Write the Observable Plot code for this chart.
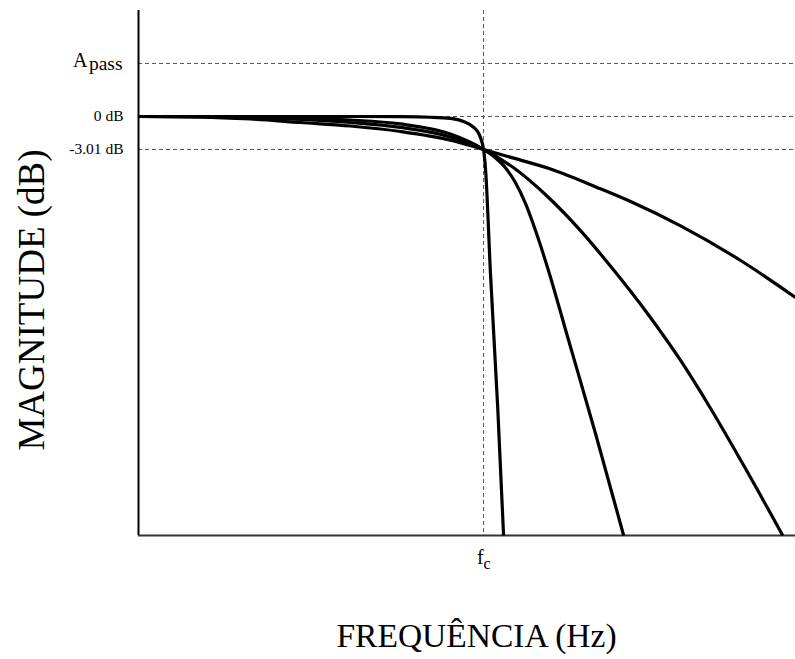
<!DOCTYPE html>
<html><head><meta charset="utf-8">
<script src="https://cdn.jsdelivr.net/npm/d3@7"></script>
<script src="https://cdn.jsdelivr.net/npm/@observablehq/plot@0.6"></script>
<style>html,body{margin:0;padding:0;background:#fff} svg{display:block}</style>
</head><body><div id="chart"></div>
<script>
// Frequency normalised to the cut-off (f / fc) and magnitude in dB
const order1Freq = [0, 0.180, 0.325, 0.470, 0.614, 0.759, 0.904, 1.0, 1.087, 1.194, 1.339, 1.426, 1.571, 1.745, 1.904];
const order1Db   = [0, -0.05, -0.23, -0.55, -0.87, -1.37, -2.16, -3.01, -3.80, -4.79, -6.60, -7.76, -9.98, -13.14, -16.51];
const order2Freq = [0, 0.180, 0.325, 0.470, 0.614, 0.759, 0.904, 1.0, 1.087, 1.186, 1.281, 1.377, 1.475, 1.571, 1.658, 1.759, 1.867];
const order2Db   = [0, -0.02, -0.09, -0.27, -0.55, -1.00, -1.87, -3.01, -4.68, -7.32, -10.41, -14.01, -17.97, -22.26, -26.64, -32.12, -38.23];
const order3Freq = [0, 0.180, 0.325, 0.470, 0.614, 0.759, 0.904, 1.0, 1.035, 1.064, 1.093, 1.122, 1.151, 1.186, 1.243, 1.325, 1.406];
const order3Db   = [0, 0, -0.05, -0.14, -0.32, -0.68, -1.60, -3.01, -3.79, -4.70, -6.07, -7.98, -10.45, -13.84, -20.05, -28.99, -38.23];
const order4Freq = [0, 0.180, 0.325, 0.470, 0.614, 0.759, 0.846, 0.904, 0.942, 0.968, 0.986, 0.994, 1.0, 1.006, 1.020, 1.041, 1.058];
const order4Db   = [0, 0, 0, 0, 0, -0.02, -0.07, -0.18, -0.46, -0.91, -1.55, -2.19, -3.01, -4.93, -14.32, -26.55, -38.23];

// Axis domain and tick labels
const freqDomain = [0, 1.904];
const dbDomain = [-38.23, 9.67];
const apassDb = 4.84;
const yTickValues = [0, -3.01];
const yTickLabels = ["0 dB", "-3.01 dB"];
const guideDb = [apassDb, 0, -3.01];
const cutoff = [1];
const yTitle = "MAGNITUDE (dB)";
const xTitle = "FREQUÊNCIA (Hz)";

const series = [
  [1, order1Freq, order1Db], [2, order2Freq, order2Db],
  [3, order3Freq, order3Db], [4, order4Freq, order4Db]
];
const rows = series.flatMap(([order, fs, ds]) => fs.map((f, i) => ({order, f, db: ds[i]})));
const ticks = yTickValues.map((v, i) => ({v, label: yTickLabels[i]}));

const font = "Liberation Serif";
const chart = Plot.plot({
  width: 795, height: 659,
  marginLeft: 138, marginRight: 0, marginTop: 10, marginBottom: 124,
  style: {fontFamily: font, background: "#fff"},
  x: {domain: freqDomain, axis: null},
  y: {domain: dbDomain, axis: null},
  marks: [
    Plot.ruleY(guideDb, {stroke: "#555", strokeWidth: 1, strokeDasharray: "4,3"}),
    Plot.ruleX(cutoff, {stroke: "#555", strokeWidth: 1, strokeDasharray: "4,3"}),
    Plot.ruleY([dbDomain[0]], {stroke: "#333", strokeWidth: 2}),
    Plot.ruleX([freqDomain[0]], {stroke: "#000", strokeWidth: 2}),
    Plot.line(rows, {x: "f", y: "db", z: "order", stroke: "#000", strokeWidth: 3.2, curve: "monotone-x", strokeLinecap: "butt"}),
    Plot.text(ticks, {y: "v", text: "label", frameAnchor: "left", textAnchor: "end", dx: -15, fontSize: 15.5, fontFamily: font, fill: "#000"}),
    Plot.text([apassDb], {y: d => d, text: () => "A", frameAnchor: "left", textAnchor: "end", dx: -51, dy: -2.4, fontSize: 20, fontFamily: font, fill: "#000"}),
    Plot.text([apassDb], {y: d => d, text: () => "pass", frameAnchor: "left", textAnchor: "end", dx: -16, dy: 0.5, fontSize: 19.5, fontFamily: font, fill: "#000"}),
    Plot.text(cutoff, {x: d => d, text: () => "f", frameAnchor: "bottom", textAnchor: "end", dx: 0, dy: 28, fontSize: 20, fontFamily: font, fill: "#000"}),
    Plot.text(cutoff, {x: d => d, text: () => "c", frameAnchor: "bottom", textAnchor: "start", dx: 0, dy: 33, fontSize: 16, fontFamily: font, fill: "#000"}),
    Plot.text([yTitle], {text: d => d, frameAnchor: "left", textAnchor: "middle", lineAnchor: "middle", rotate: -90, dx: -106, dy: 27, fontSize: 37, fontFamily: font, fill: "#000"}),
    Plot.text([xTitle], {text: d => d, frameAnchor: "bottom", textAnchor: "middle", dx: 9.5, dy: 111, fontSize: 33.5, fontFamily: font, fill: "#000"})
  ]
});
document.getElementById("chart").appendChild(chart);
</script>
</body></html>
